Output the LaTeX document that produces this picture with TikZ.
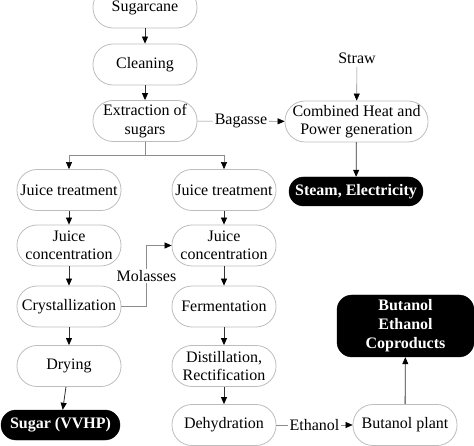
\documentclass[tikz,border=0pt]{standalone}
\usepackage{fontspec}
\setmainfont{Liberation Serif}
\usetikzlibrary{arrows.meta}
\usetikzlibrary{calc}
\definecolor{boxline}{gray}{0.74}
\definecolor{feedline}{gray}{0.55}
\definecolor{flowline}{gray}{0.2}
\newcommand{\boxwd}{104pt}
\newcommand{\boxht}{41pt}
\newcommand{\colleft}{69}
\newcommand{\colmid}{145}
\newcommand{\colright}{224}
\newcommand{\colfar}{405}
\tikzset{
  stepbox/.style={draw=boxline, line width=0.8pt, rounded corners=20pt,
    minimum width=\boxwd, minimum height=\boxht, align=center, inner sep=2pt},
  prodbox/.style={fill=black, draw=black, text=white, align=center,
    font=\fontsize{16}{19}\selectfont\bfseries, inner sep=2pt},
  tip/.style={-{Triangle[length=7pt,width=6pt,color=black]}},
  flow/.style={draw=flowline, line width=0.8pt, tip},
  feed/.style={draw=feedline, line width=0.6pt, tip},
  lbl/.style={fill=white, inner sep=1.5pt},
}

\begin{document}
\begin{tikzpicture}[x=1pt,y=-1pt,font=\fontsize{16}{18.5}\selectfont]
    \useasboundingbox (0,0) rectangle (474,446);
    % main line
    \node[stepbox] (cane) at (\colmid,7.5) {\raisebox{-6.5pt}{Sugarcane}};
    \node[stepbox] (clean) at (\colmid,64.5) {Cleaning};
    \node[stepbox] (extract) at (\colmid,121) {Extraction of\\sugars};
    % sugar part
    \node[stepbox] (treatl) at (\colleft,190) {Juice treatment};
    \node[stepbox] (concl) at (\colleft,245.5) {Juice\\concentration};
    \node[stepbox] (cryst) at (\colleft,306.5) {Crystallization};
    \node[stepbox] (dry) at (\colleft,366) {Drying};
    \node[prodbox, rounded corners=15pt, minimum width=119pt, minimum height=30pt]
      (sugar) at (60.5,425) {Sugar (VVHP)};
    % ethanol part
    \node[stepbox] (treatr) at (\colright,190) {Juice treatment};
    \node[stepbox] (concr) at (\colright,245.5) {Juice\\concentration};
    \node[stepbox] (ferm) at (\colright,306.5) {Fermentation};
    \node[stepbox] (distil) at (\colright,366) {Distillation,\\Rectification};
    \node[stepbox] (dehyd) at (\colright,425) {Dehydration};
    % butanol part
    \node[stepbox] (butplant) at (\colfar,425) {Butanol plant};
    \node[prodbox, rounded corners=15pt, minimum width=137pt, minimum height=62pt]
      (coprod) at (405.5,326) {Butanol\\Ethanol\\Coproducts};
    % chp part
    \node (straw) at (357,58) {Straw};
    \node[stepbox, minimum width=143pt] (chp) at (356.5,121.5)
      {Combined Heat and\\Power generation};
    \node[prodbox, rounded corners=14.5pt, minimum width=134pt, minimum height=29pt]
      (steam) at (356,191.5) {Steam, Electricity};

    % connectors
    \draw[flow] (cane) -- (clean);
    \draw[flow] (clean) -- (extract);
    \coordinate (split) at ($(extract.south)+(0,13.5)$);
    \draw[feed, -] (extract) -- (split);
    \draw[feed] (split) -| (treatl);
    \draw[feed] (split) -| (treatr);
    \draw[flow] (treatl) -- (concl);
    \draw[flow] (concl) -- (cryst);
    \draw[flow] (cryst) -- (dry);
    \draw[flow] (dry) -- (sugar);
    \draw[flow] (treatr) -- (concr);
    \draw[flow] (concr) -- (ferm);
    \draw[flow] (ferm) -- (distil);
    \draw[flow] (distil) -- (dehyd);
    \draw[flow] (butplant) -- (coprod);
    \draw[flow] (chp) -- (steam);
    \draw[feed] (straw) -- (chp);
    \draw[feed] (extract) -- node[lbl] {Bagasse} (chp);
    \draw[feed] (dehyd) -- node[lbl] {Ethanol} (butplant);
    \draw[feed] (cryst.east)
      -- ($(cryst.east)!.5!(ferm.west)$) |- node[lbl, pos=.25] {Molasses} (concr.west);
  \end{tikzpicture}
\end{document}
